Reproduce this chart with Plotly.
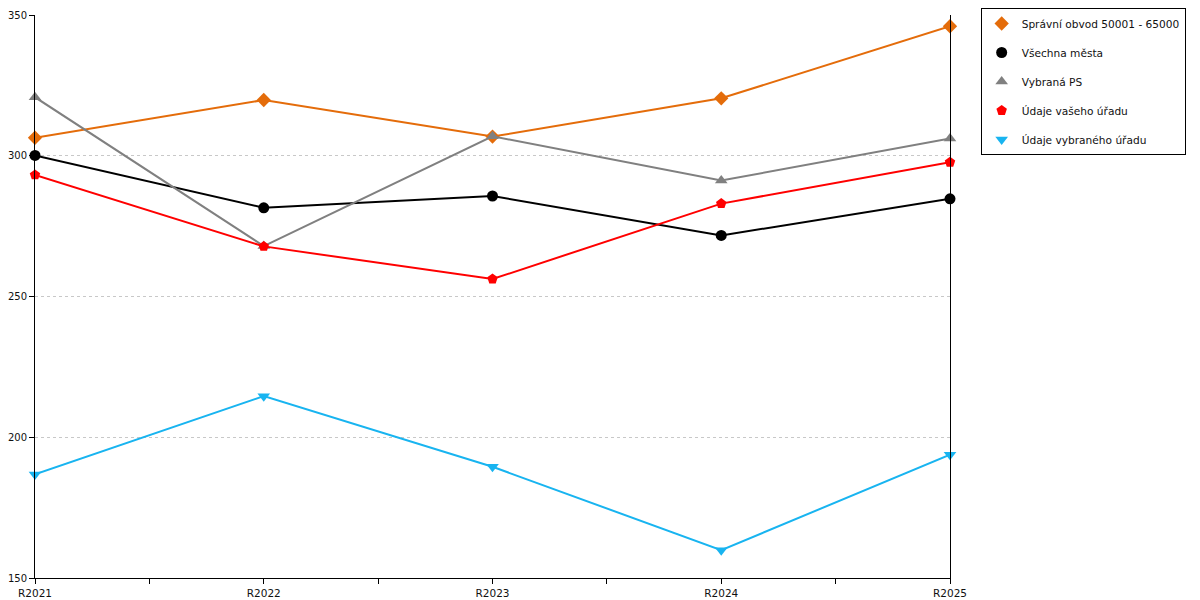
import plotly.graph_objects as go

# ─────────────────────────── data ────────────────────────────────────────────
years = ["R2021", "R2022", "R2023", "R2024", "R2025"]

spravni_obvod = [306.4, 319.8, 306.8, 320.4, 346.0]
vsechna_mesta = [300.1, 281.5, 285.7, 271.7, 284.7]
vybrana_ps = [320.8, 267.9, 306.9, 291.2, 306.1]
udaje_vaseho = [293.2, 267.8, 256.2, 283.0, 297.7]
udaje_vybraneho = [186.8, 214.6, 189.5, 159.9, 193.8]

series = [
    ("Správní obvod 50001 - 65000", spravni_obvod, "#E46C0A", "diamond"),
    ("Všechna města", vsechna_mesta, "#000000", "circle"),
    ("Vybraná PS", vybrana_ps, "#808080", "triangle-up"),
    ("Údaje vašeho úřadu", udaje_vaseho, "#FF0000", "pentagon"),
    ("Údaje vybraného úřadu", udaje_vybraneho, "#18B4F0", "triangle-down"),
]

xpos = list(range(len(years)))
half_ticks = [i / 2 for i in range(2 * len(years) - 1)]
half_text = [years[int(v)] if v == int(v) else "" for v in half_ticks]

# ────────────────────────── figure ───────────────────────────────────────────
fig = go.Figure()
for name, vals, colour, sym in series:
    fig.add_trace(go.Scatter(
        x=xpos, y=vals, mode="lines+markers", name=name,
        line=dict(color=colour, width=2),
        marker=dict(symbol=sym, size=11, color=colour),
        showlegend=False, cliponaxis=False,
    ))
    # legend entry: marker only
    fig.add_trace(go.Scatter(
        x=[None], y=[None], mode="markers", name=name,
        marker=dict(symbol=sym, size=11, color=colour),
        legendgroup=name,
    ))

# page body has an 8px margin, so the figure is 8px smaller on each side
fig.update_layout(
    width=1192, height=592,
    margin=dict(l=27, r=250, t=7, b=22, autoexpand=False),
    paper_bgcolor="white", plot_bgcolor="white",
    font=dict(family="DejaVu Sans, Verdana, sans-serif", size=11, color="#111"),
    legend=dict(
        xref="container", yref="container",
        x=0.816, y=1.0, xanchor="left", yanchor="top",
        bordercolor="black", borderwidth=1,
        font=dict(size=10.6, color="#111"),
        tracegroupgap=10, itemwidth=30,
    ),
)
fig.update_xaxes(
    range=[0, 4], tickvals=half_ticks, ticktext=half_text,
    ticks="outside", ticklen=5, tickcolor="black",
    showline=True, linecolor="black", linewidth=1,
    showgrid=False, zeroline=False,
    tickfont=dict(size=10.5),
)
fig.update_yaxes(
    range=[150, 350], tickvals=[150, 200, 250, 300, 350],
    ticks="outside", ticklen=5, tickcolor="black",
    showline=True, linecolor="black", linewidth=1, mirror=True,
    showgrid=True, gridcolor="#C8C8C8", griddash="dot", gridwidth=1,
    zeroline=False,
    tickfont=dict(size=10),
)

fig.write_html("out.html")
